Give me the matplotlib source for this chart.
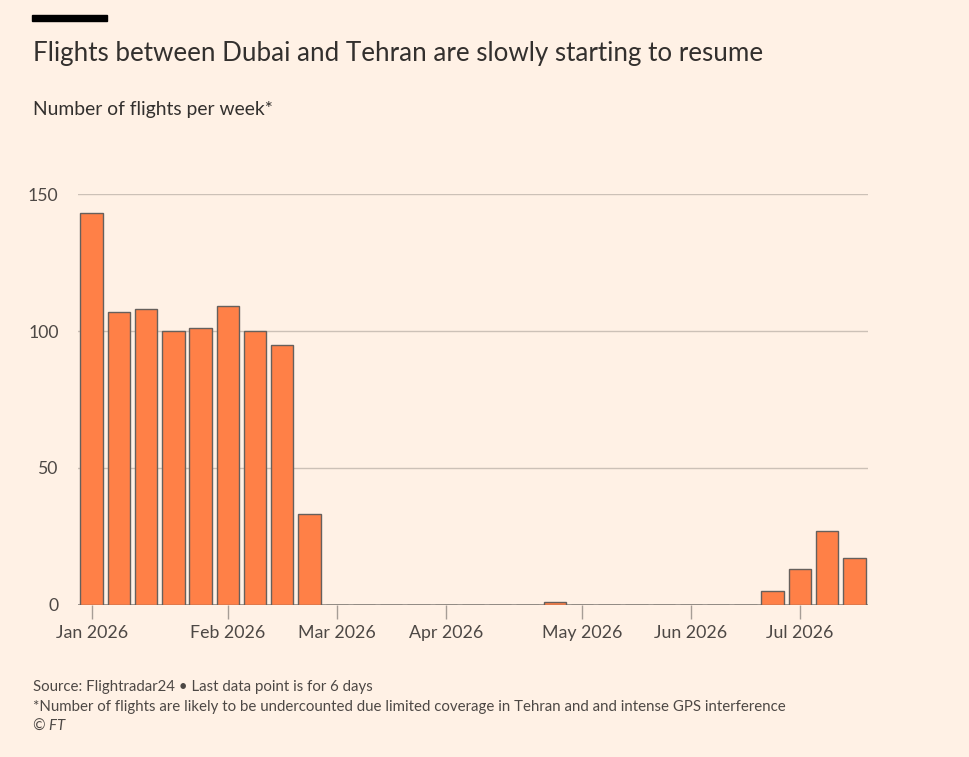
import matplotlib
matplotlib.use("Agg")
import matplotlib.pyplot as plt
import pandas as pd

# weekly counts, weeks starting 1 Jan 2026
weeks = pd.date_range("2026-01-01", periods=29, freq="7D")
flights = [143, 107, 108, 100, 101, 109, 100, 95, 33,
           0, 0, 0, 0, 0, 0, 0, 0, 1, 0, 0, 0, 0, 0, 0, 0,
           5, 13, 27, 17]
y_ticks = [0, 50, 100, 150]

title = "Flights between Dubai and Tehran are slowly starting to resume"
subtitle = "Number of flights per week*"
notes = ["Source: Flightradar24 \u2022 Last data point is for 6 days",
         "*Number of flights are likely to be undercounted due limited coverage in Tehran and and intense GPS interference",
         "\u00a9 FT"]

bg = "#fff1e5"
bar_col = "#ff8047"
edge_col = "#66605c"
grid_col = "#ccc1b7"
text_col = "#33302e"
label_col = "#4d4845"

plt.rcParams["font.family"] = ["Lato", "DejaVu Sans"]

fig = plt.figure(figsize=(9.7, 7.57), dpi=100, facecolor=bg)
W, H = 970, 757
ax = fig.add_axes([78 / W, 1 - 604.5 / H, 790 / W, (604.5 - 194.3) / H])
ax.set_facecolor(bg)

x = list(range(len(weeks)))
ax.bar(x, flights, width=0.82, color=bar_col, edgecolor=edge_col, linewidth=1.0, zorder=3)

ax.set_xlim(-0.5, len(weeks) - 0.5)
ax.set_ylim(0, 150)
ax.set_yticks(y_ticks)
ax.set_yticklabels([str(v) for v in y_ticks], fontsize=12.7, color=label_col)
for v in y_ticks[1:]:
    ax.axhline(v, color=grid_col, linewidth=1, zorder=1)
ax.axhline(0, color="#8c8580", linewidth=1.2, zorder=2)
ax.tick_params(axis="y", length=0, pad=14)

# tick on first week of each month
month_pos = [i for i, d in enumerate(weeks) if i == 0 or d.month != weeks[i - 1].month]
ax.set_xticks(month_pos)
ax.set_xticklabels([weeks[i].strftime("%b %Y") for i in month_pos], fontsize=12.8, color=label_col)
ax.tick_params(axis="x", length=10, width=1, color="#a69d96", pad=5)

for s in ax.spines.values():
    s.set_visible(False)

# header
fig.patches.append(plt.Rectangle((32 / W, 1 - 21 / H), 75 / W, 6 / H,
                                 transform=fig.transFigure, color="black", figure=fig))
fig.text(33 / W, 1 - 61 / H, title, fontsize=18.75, color=text_col, va="baseline")
fig.text(33 / W, 1 - 115 / H, subtitle, fontsize=13.9, color=text_col, va="baseline")

for i, line in enumerate(notes):
    fig.text(33 / W, 1 - (691 + 20 * i) / H, line, fontsize=10.85, color=label_col,
             va="baseline", style="italic" if line.startswith("\u00a9") else "normal")

fig.savefig("out.png", dpi=100, facecolor=bg)
